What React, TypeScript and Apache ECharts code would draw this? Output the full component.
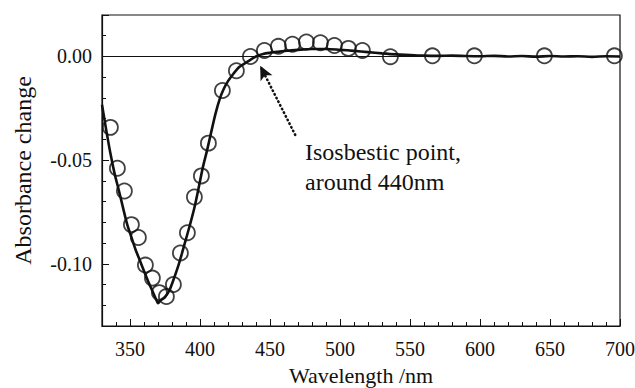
import React, { useEffect, useRef } from "react";
import * as echarts from "echarts";

// Fitted / measured spectrum (solid line)
const curveWavelength = [
  330, 333, 336, 339, 342, 345, 348, 351, 354, 357, 360, 363, 366, 369, 370,
  372, 375, 378, 381, 384, 387, 390, 393, 396, 399, 402, 405, 408, 411, 414,
  417, 420, 424, 428, 432, 436, 440, 445, 450, 455, 460, 470, 480, 490, 500,
  510, 520, 530, 540, 550, 560, 570, 580, 590, 600, 610, 620, 630, 640, 650,
  660, 670, 680, 690, 700,
];
const curveAbsorbance = [
  -0.0233, -0.0354, -0.0467, -0.0565, -0.0645, -0.0729, -0.081, -0.0872,
  -0.0932, -0.0983, -0.1035, -0.1085, -0.1131, -0.1177, -0.119, -0.1175,
  -0.116, -0.113, -0.1078, -0.102, -0.0952, -0.088, -0.0808, -0.073, -0.0635,
  -0.0536, -0.0454, -0.0365, -0.0278, -0.0207, -0.0156, -0.0119, -0.0082,
  -0.0051, -0.0033, -0.0016, 0.0, 0.0012, 0.0018, 0.0022, 0.0026, 0.0032,
  0.0036, 0.0036, 0.0032, 0.0027, 0.0021, 0.0015, 0.001, 0.0007, 0.0004,
  0.0003, 0.0004, 0.0002, 0.0001, 0.0003, 0.0, 0.0002, -0.0001, 0.0002, 0.0,
  0.0001, -0.0002, 0.0001, 0.0,
];

// Open circles
const pointWavelength = [
  336, 341, 346, 351, 356, 361, 366, 371, 376, 381, 386, 391, 396, 401, 406,
  416, 426, 436, 446, 456, 466, 476, 486, 496, 506, 516, 536, 566, 596, 646,
  696,
];
const pointAbsorbance = [
  -0.0342, -0.0539, -0.0649, -0.0811, -0.0873, -0.1006, -0.1069, -0.1139,
  -0.1158, -0.11, -0.0948, -0.085, -0.0678, -0.0576, -0.0418, -0.0164, -0.0069,
  0.0, 0.0029, 0.0049, 0.0059, 0.007, 0.0066, 0.0053, 0.0039, 0.0029, -0.0001,
  0.0003, 0.0003, 0.0003, 0.0003,
];

// Annotation arrow (data coordinates): tail -> head
const arrowTail = [468, -0.0378];
const arrowHead = [443, -0.0045];
const annotationLines = ["Isosbestic point,", "around 440nm"];

const xName = "Wavelength /nm";
const yName = "Absorbance change";

const FONT = "Liberation Serif";
const INK = "#111";

export default function App() {
  const ref = useRef<HTMLDivElement>(null);

  useEffect(() => {
    if (!ref.current) return;
    const chart = echarts.init(ref.current, undefined, { renderer: "svg" });

    const curve = curveWavelength.map((x, i) => [x, curveAbsorbance[i]]);
    const points = pointWavelength.map((x, i) => [x, pointAbsorbance[i]]);

    chart.setOption({
      animation: false,
      backgroundColor: "#fff",
      textStyle: { fontFamily: FONT },
      grid: {
        left: 102,
        right: 15,
        top: 15,
        bottom: 62,
        show: true,
        borderColor: INK,
        borderWidth: 1.2,
        backgroundColor: "transparent",
        containLabel: false,
        outerBoundsMode: "none",
      },
      xAxis: [
        {
          type: "value",
          min: 330,
          max: 700,
          splitNumber: 7,
          position: "bottom",
          name: xName,
          nameLocation: "middle",
          nameGap: 38,
          nameTextStyle: { fontFamily: FONT, fontSize: 22, lineHeight: 22, color: INK },
          axisLine: { show: true, onZero: false, lineStyle: { color: INK, width: 1.2 } },
          axisTick: { show: true, inside: true, length: 7, lineStyle: { color: INK, width: 1 } },
          axisLabel: {
            fontFamily: FONT,
            fontSize: 20,
            color: INK,
            margin: 13,
            formatter: (v: number) => (v % 50 === 0 ? String(v) : ""),
          },
          splitLine: { show: false },
        },
        {
          type: "value",
          min: 330,
          max: 700,
          interval: 10,
          position: "bottom",
          axisLine: { show: false, onZero: false },
          axisTick: { show: true, inside: true, length: 4, lineStyle: { color: INK, width: 1 } },
          axisLabel: { show: false },
          splitLine: { show: false },
        },
      ],
      yAxis: [
        {
          type: "value",
          min: -0.13,
          max: 0.02,
          splitNumber: 3,
          position: "left",
          name: yName,
          nameLocation: "middle",
          nameGap: 67,
          nameTextStyle: { fontFamily: FONT, fontSize: 24, color: INK },
          axisLine: { show: true, onZero: false, lineStyle: { color: INK, width: 1.2 } },
          axisTick: { show: true, inside: true, length: 7, lineStyle: { color: INK, width: 1 } },
          axisLabel: {
            fontFamily: FONT,
            fontSize: 20,
            color: INK,
            margin: 10,
            formatter: (v: number) => {
              const c = Math.round(v * 100);
              if (Math.abs(v * 100 - c) > 1e-6 || c % 5 !== 0) return "";
              return (c / 100).toFixed(2);
            },
          },
          splitLine: { show: false },
        },
        {
          type: "value",
          min: -0.13,
          max: 0.02,
          interval: 0.01,
          position: "left",
          axisLine: { show: false, onZero: false },
          axisTick: { show: true, inside: true, length: 4, lineStyle: { color: INK, width: 1 } },
          axisLabel: { show: false },
          splitLine: { show: false },
        },
      ],
      graphic: [
        {
          type: "text",
          left: 305,
          top: 137,
          silent: true,
          style: {
            text: annotationLines.join("\n"),
            fontFamily: FONT,
            fontSize: 24,
            lineHeight: 30,
            fill: INK,
          },
        },
      ],
      series: [
        {
          type: "line",
          xAxisIndex: 0,
          yAxisIndex: 0,
          data: curve,
          showSymbol: false,
          smooth: 0.3,
          lineStyle: { color: INK, width: 2.6 },
          z: 3,
          markLine: {
            silent: true,
            symbol: ["none", "none"],
            label: { show: false },
            lineStyle: { color: INK, width: 1, type: "solid" },
            data: [{ yAxis: 0 }],
            z: 2,
          },
        },
        {
          type: "scatter",
          xAxisIndex: 0,
          yAxisIndex: 0,
          data: points,
          symbol: "circle",
          symbolSize: 15,
          itemStyle: { color: "rgba(0,0,0,0)", borderColor: INK, borderWidth: 1.8 },
          z: 4,
          markLine: {
            silent: true,
            symbol: ["none", "arrow"],
            symbolSize: [10, 14],
            label: { show: false },
            lineStyle: { color: INK, width: 2.6, type: [0.5, 3.6], cap: "round" },
            data: [[{ coord: arrowTail }, { coord: arrowHead }]],
          },
        },
      ],
    });

    return () => chart.dispose();
  }, []);

  return <div ref={ref} style={{ width: 635, height: 388, position: "absolute", left: 0, top: 0 }} />;
}
